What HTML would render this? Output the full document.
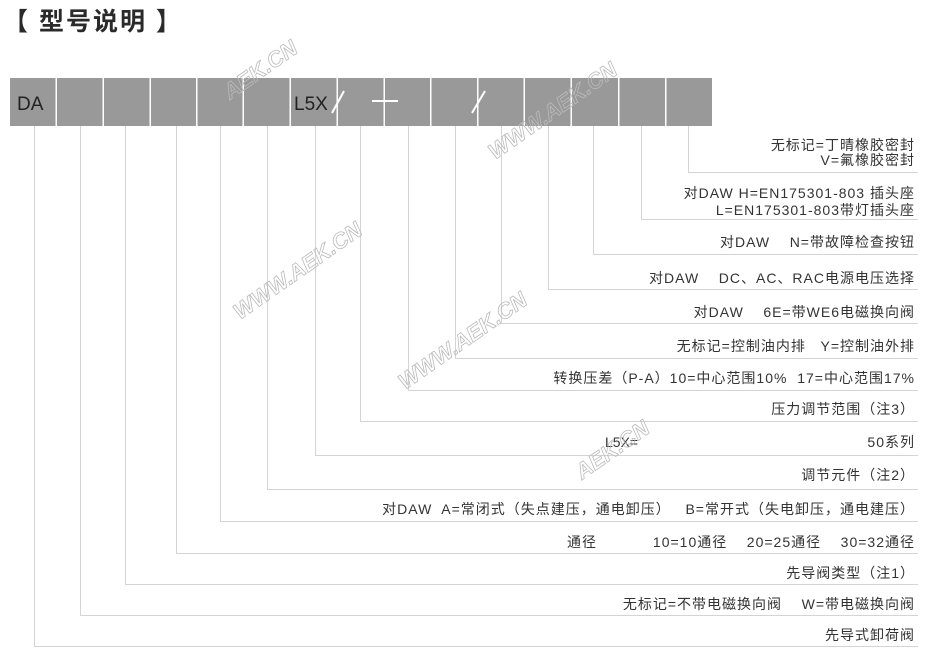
<!DOCTYPE html>
<html><head><meta charset="utf-8"><style>
html,body{margin:0;padding:0;background:#fff;width:930px;height:654px;overflow:hidden}
svg{display:block}
text{font-family:"Liberation Sans","Noto Sans CJK SC",sans-serif;fill:#333}
</style></head><body>
<svg width="930" height="654" viewBox="0 0 930 654" xmlns="http://www.w3.org/2000/svg">
<text x="3" y="30" font-size="25" font-weight="bold" style="fill:#2a2a2a;letter-spacing:2px">【 型号说明 】</text>
<g fill="#999">
<rect x="10" y="78" width="45.5" height="48"/>
<rect x="57" y="78" width="45.5" height="48"/>
<rect x="104" y="78" width="45.5" height="48"/>
<rect x="151" y="78" width="45" height="48"/>
<rect x="197.5" y="78" width="45" height="48"/>
<rect x="244" y="78" width="45.5" height="48"/>
<rect x="291" y="78" width="45.5" height="48"/>
<rect x="338" y="78" width="45.5" height="48"/>
<rect x="385" y="78" width="45" height="48"/>
<rect x="431.5" y="78" width="45.5" height="48"/>
<rect x="478.5" y="78" width="45" height="48"/>
<rect x="525" y="78" width="45.5" height="48"/>
<rect x="572" y="78" width="46" height="48"/>
<rect x="619.5" y="78" width="45.5" height="48"/>
<rect x="666.5" y="78" width="45.5" height="48"/>
</g>
<text x="17" y="110" font-size="19" style="fill:#222">DA</text>
<text x="294" y="110" font-size="19" style="fill:#222">L5X</text>
<g stroke="#fff" stroke-width="2">
<line x1="332" y1="113" x2="344" y2="91"/>
<line x1="372" y1="101" x2="398" y2="101"/>
<line x1="472" y1="113" x2="485" y2="91"/>
</g>
<g stroke="#d4d4d4" stroke-width="1" fill="none">
<polyline points="688.5,126 688.5,172.5 918,172.5"/>
<polyline points="641.5,126 641.5,219.5 918,219.5"/>
<polyline points="593.5,126 593.5,254.5 918,254.5"/>
<polyline points="548.5,126 548.5,289.5 918,289.5"/>
<polyline points="501.5,126 501.5,323.5 918,323.5"/>
<polyline points="455.5,126 455.5,358.5 918,358.5"/>
<polyline points="408.5,126 408.5,390.5 918,390.5"/>
<polyline points="360.5,126 360.5,421.5 918,421.5"/>
<polyline points="315.5,126 315.5,455.5 918,455.5"/>
<polyline points="267.5,126 267.5,489.5 918,489.5"/>
<polyline points="220.5,126 220.5,521.5 918,521.5"/>
<polyline points="176.5,126 176.5,553.5 918,553.5"/>
<polyline points="125.5,126 125.5,584.5 918,584.5"/>
<polyline points="80.5,126 80.5,615.5 918,615.5"/>
<polyline points="34.5,126 34.5,646.5 918,646.5"/>
</g>
<g font-size="14" text-anchor="end" style="letter-spacing:1px">
<text x="915" y="150">无标记=丁晴橡胶密封</text>
<text x="915" y="165">V=氟橡胶密封</text>
<text x="915" y="198">对DAW  H=EN175301-803 插头座</text>
<text x="915" y="215">L=EN175301-803带灯插头座</text>
<text x="915" y="247" xml:space="preserve">对DAW    N=带故障检查按钮</text>
<text x="915" y="283" xml:space="preserve">对DAW    DC、AC、RAC电源电压选择</text>
<text x="915" y="317" xml:space="preserve">对DAW    6E=带WE6电磁换向阀</text>
<text x="915" y="351" xml:space="preserve">无标记=控制油内排   Y=控制油外排</text>
<text x="915" y="383" xml:space="preserve">转换压差（P-A）10=中心范围10%  17=中心范围17%</text>
<text x="915" y="414">压力调节范围（注3）</text>
<text x="915" y="447">50系列</text>
<text x="915" y="480">调节元件（注2）</text>
<text x="915" y="514" xml:space="preserve">对DAW  A=常闭式（失点建压，通电卸压）   B=常开式（失电卸压，通电建压）</text>
<text x="915" y="547" xml:space="preserve">10=10通径    20=25通径    30=32通径</text>
<text x="915" y="578">先导阀类型（注1）</text>
<text x="915" y="609" xml:space="preserve">无标记=不带电磁换向阀    W=带电磁换向阀</text>
<text x="915" y="640">先导式卸荷阀</text>
</g>
<text x="567" y="547" font-size="14" style="letter-spacing:1px">通径</text>
<text x="605" y="447" font-size="14">L5X=</text>
<g font-size="22" font-weight="bold" stroke="#bbb" stroke-width="0.8" font-style="italic">
<text x="230" y="100" transform="rotate(-35 230 100)" style="fill:none">AEK.CN</text>
<text x="495" y="160" transform="rotate(-35 495 160)" style="fill:none">WWW.AEK.CN</text>
<text x="240" y="320" transform="rotate(-35 240 320)" style="fill:none">WWW.AEK.CN</text>
<text x="405" y="390" transform="rotate(-35 405 390)" style="fill:none">WWW.AEK.CN</text>
<text x="582" y="480" transform="rotate(-35 582 480)" style="fill:none">AEK.CN</text>
</g>
</svg>
</body></html>
